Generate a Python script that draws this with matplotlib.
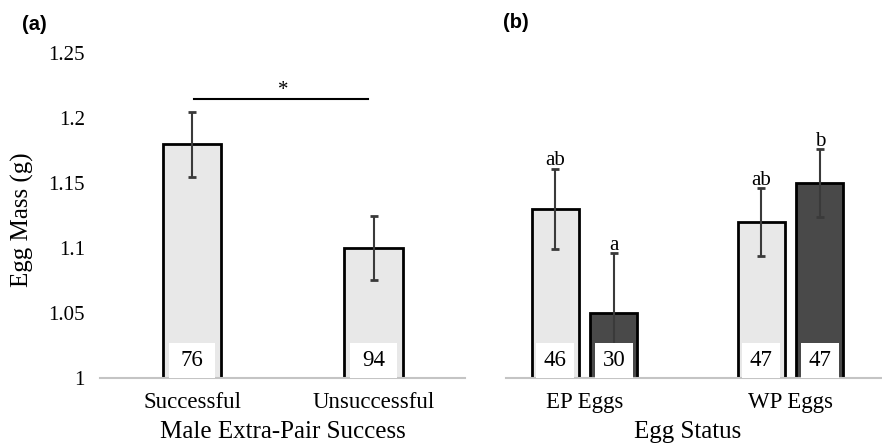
import matplotlib
matplotlib.use("Agg")
import matplotlib.pyplot as plt
import numpy as np

# ---- data ----
a_categories = ["Successful", "Unsuccessful"]
a_means = [1.18, 1.10]
a_errors = [0.025, 0.025]
a_counts = ["76", "94"]

b_categories = ["EP Eggs", "WP Eggs"]
b_light_means = [1.13, 1.12]
b_light_errors = [0.031, 0.026]
b_light_counts = ["46", "47"]
b_light_letters = ["ab", "ab"]
b_dark_means = [1.05, 1.15]
b_dark_errors = [0.046, 0.026]
b_dark_counts = ["30", "47"]
b_dark_letters = ["a", "b"]

y_ticks = [1.0, 1.05, 1.1, 1.15, 1.2, 1.25]
y_tick_labels = ["1", "1.05", "1.1", "1.15", "1.2", "1.25"]

SERIF = ["Liberation Serif", "DejaVu Serif"]
LIGHT = "#e8e8e8"
DARK = "#494949"
ERRC = "#3a3a3a"
AXC = "#c4c4c4"

W, H = 882, 443
fig = plt.figure(figsize=(W / 100, H / 100), dpi=100)
fig.patch.set_facecolor("white")

y0_px, ytop_px = 378, 53
ax_b = 1 - y0_px / H
ax_h = (y0_px - ytop_px) / H
axA = fig.add_axes([100 / W, ax_b, (465 - 100) / W, ax_h])
axB = fig.add_axes([506 / W, ax_b, (882 - 506) / W, ax_h])

BOX_H = 0.027

for ax in (axA, axB):
    ax.set_ylim(1.0, 1.25)
    for s in ("top", "right", "left"):
        ax.spines[s].set_visible(False)
    ax.spines["bottom"].set_color(AXC)
    ax.spines["bottom"].set_linewidth(1.5)
    ax.tick_params(axis="both", length=0)
    ax.set_facecolor("none")

def draw_bars(ax, xs, means, errs, counts, width, color):
    ax.bar(xs, np.array(means) - 1.0, bottom=1.0, width=width, color=color,
           edgecolor="black", linewidth=2.0, zorder=2)
    ax.errorbar(xs, means, yerr=errs, fmt="none", ecolor=ERRC, elinewidth=1.5,
                capsize=3.2, capthick=2, zorder=3)
    ax.bar(xs, [BOX_H] * len(xs), bottom=1.0, width=width * 0.8, color="white",
           edgecolor="none", zorder=4)
    for x, c in zip(xs, counts):
        ax.text(x, 1.0 + BOX_H / 2, c, ha="center", va="center",
                family=SERIF, fontsize=16.5, zorder=5)

# ---- panel a ----
xa = np.arange(len(a_categories))
axA.set_xlim(-0.507, 1.504)
draw_bars(axA, xa, a_means, a_errors, a_counts, 0.32, LIGHT)
axA.set_xticks(xa)
axA.set_xticklabels(a_categories, family=SERIF, fontsize=16.5)
axA.tick_params(axis="x", pad=10)
axA.set_yticks(y_ticks)
axA.set_yticklabels(y_tick_labels, family=SERIF, fontsize=15)
axA.tick_params(axis="y", pad=11)
axA.plot([xa[0] + 0.01, xa[1] - 0.03], [1.215, 1.215], color="black", lw=1.5,
         clip_on=False, zorder=3)
axA.text((xa[0] + xa[1]) / 2, 1.2135, "*", ha="center", va="bottom",
         family=SERIF, fontsize=15)

# ---- panel b ----
xb = np.arange(len(b_categories))
off = 0.142
bw = 0.228
axB.set_xlim(-0.381, 1.444)
draw_bars(axB, xb - off, b_light_means, b_light_errors, b_light_counts, bw, LIGHT)
draw_bars(axB, xb + off, b_dark_means, b_dark_errors, b_dark_counts, bw, DARK)
for x, m, e, t in zip(xb - off, b_light_means, b_light_errors, b_light_letters):
    axB.annotate(t, (x, m + e), xytext=(0, -1), textcoords="offset points",
                 ha="center", va="bottom", family=SERIF, fontsize=15)
for x, m, e, t in zip(xb + off, b_dark_means, b_dark_errors, b_dark_letters):
    axB.annotate(t, (x, m + e), xytext=(0, -1), textcoords="offset points",
                 ha="center", va="bottom", family=SERIF, fontsize=15)
axB.set_xticks(xb)
axB.set_xticklabels(b_categories, family=SERIF, fontsize=16.5)
axB.tick_params(axis="x", pad=10)
axB.set_yticks([])

# ---- labels ----
fig.text(283 / W, 1 - 432 / H, "Male Extra-Pair Success", ha="center", va="center",
         family=SERIF, fontsize=18)
fig.text(688 / W, 1 - 432 / H, "Egg Status", ha="center", va="center",
         family=SERIF, fontsize=18)
fig.text(22 / W, 1 - 220 / H, "Egg Mass (g)", ha="center", va="center",
         rotation=90, family=SERIF, fontsize=18)
fig.text(22 / W, 1 - 25 / H, "(a)", ha="left", va="center",
         family=["Liberation Sans", "DejaVu Sans"], fontweight="bold", fontsize=14.5)
fig.text(503 / W, 1 - 23 / H, "(b)", ha="left", va="center",
         family=["Liberation Sans", "DejaVu Sans"], fontweight="bold", fontsize=14.5)

fig.savefig("out.png", dpi=100, facecolor="white")
